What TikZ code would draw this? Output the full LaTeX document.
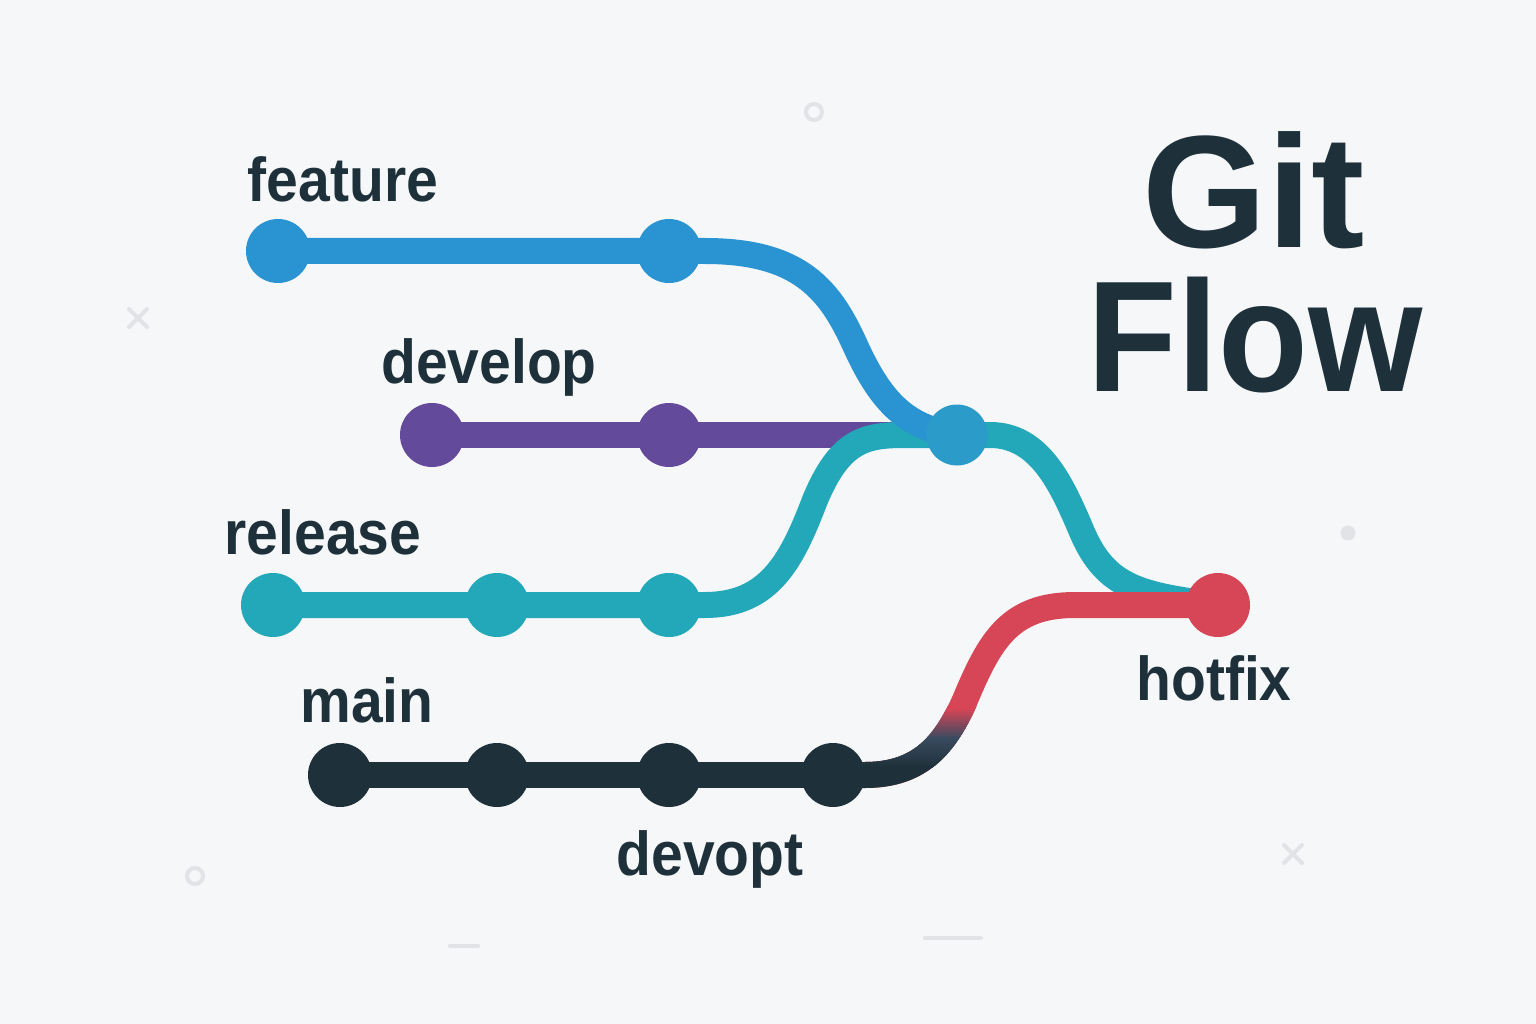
\documentclass[tikz,border=0pt]{standalone}
\usepackage{fontspec}
\setmainfont{Liberation Sans}
\newfontfamily\lblfont{Liberation Sans}[FakeStretch=0.92]
\newfontfamily\ttlfont{Liberation Sans}[FakeStretch=0.93]
\newfontfamily\gitfont{Liberation Sans}
\pgfdeclarelayer{bglayer}
\pgfdeclarelayer{lines}
\pgfsetlayers{bglayer,lines,main}
\definecolor{bgc}{HTML}{F6F7F9}
\definecolor{fblue}{HTML}{2A93D1}
\definecolor{dpurple}{HTML}{634A9A}
\definecolor{rteal}{HTML}{22A8B9}
\definecolor{hred}{HTML}{D64656}
\definecolor{mdark}{HTML}{1E313A}
\definecolor{midslate}{HTML}{3A4A60}
\definecolor{txt}{HTML}{1E313B}
\definecolor{mergec}{HTML}{2B9BC9}
\definecolor{deco}{HTML}{E2E3E7}
\tikzset{
  commit/.style={circle, inner sep=0pt, minimum size=64pt},
  branchline/.style={line width=26pt},
  lbl/.style={font=\lblfont\bfseries\fontsize{62}{62}\selectfont, text=txt, anchor=base, inner sep=0pt},
  ttl/.style={font=\ttlfont\bfseries\fontsize{158}{158}\selectfont, text=txt, anchor=base, inner sep=0pt},
  decoline/.style={draw=deco, line width=4pt, line cap=round}
}
\newcommand\mainpath{(m4.center) -- (865,775) .. controls (920,775) and (945,745) .. (965,700) .. controls (990,640) and (1010,605) .. (1075,605) -- (h.center)}
\begin{document}
\begin{tikzpicture}[x=1pt,y=-1pt]
\begin{pgfonlayer}{bglayer}
\fill[bgc] (0,0) rectangle (1536,1024);
\end{pgfonlayer}
\useasboundingbox (0,0) rectangle (1536,1024);

% decorations
\draw[decoline] (814,112) circle (8);
\draw[decoline] (195,876) circle (8);
\fill[deco] (1348,533) circle (7.5);
\draw[decoline] (129,309) -- (147,327) (129,327) -- (147,309);
\draw[decoline] (1284,845) -- (1302,863) (1284,863) -- (1302,845);
\draw[decoline] (450,946) -- (478,946);
\draw[decoline] (925,938) -- (981,938);

% commits
\node[commit, fill=fblue] (f1) at (278,251) {};
\node[commit, fill=fblue] (f2) at (669,251) {};
\node[commit, fill=dpurple] (d1) at (432,435) {};
\node[commit, fill=dpurple] (d2) at (669,435) {};
\node[commit, fill=rteal] (r1) at (273,605) {};
\node[commit, fill=rteal] (r2) at (497,605) {};
\node[commit, fill=rteal] (r3) at (669,605) {};
\node[commit, fill=mdark] (m1) at (340,775) {};
\node[commit, fill=mdark] (m2) at (497,775) {};
\node[commit, fill=mdark] (m3) at (669,775) {};
\node[commit, fill=mdark] (m4) at (833,775) {};
\node[commit, fill=mergec, minimum size=61pt] (mg) at (957,435) {};
\node[commit, fill=hred] (h) at (1218,605) {};

% connectors
\begin{pgfonlayer}{lines}
\draw[branchline, dpurple] (d1.center) -- (mg.center);
\draw[branchline, rteal] (r1.center) -- (r3.center) -- (705,605)
  .. controls (770,605) and (792,560) .. (815,500)
  .. controls (840,440) and (865,435) .. (905,435) -- (mg.center) -- (990,435)
  .. controls (1040,435) and (1062,485) .. (1082,532)
  .. controls (1106,588) and (1140,595) .. (h.center);
\draw[branchline, fblue] (f1.center) -- (f2.center) -- (705,251)
  .. controls (800,251) and (830,290) .. (855,345)
  .. controls (880,400) and (905,428) .. (mg.center);
\draw[branchline, mdark] (m1.center) -- (m4.center);
\draw[branchline, hred] \mainpath;
\begin{scope}
\clip (790,765) rectangle (1100,800);
\draw[branchline, mdark] \mainpath;
\end{scope}
\foreach \i in {0,...,29}{
  \pgfmathtruncatemacro{\p}{100-\i*100/29}
  \pgfmathsetmacro{\ya}{767-2*\i}
  \pgfmathsetmacro{\yb}{764-2*\i}
  \ifnum\p>50
    \pgfmathtruncatemacro{\q}{(\p-50)*2}
    \colorlet{bandc}{mdark!\q!midslate}
  \else
    \pgfmathtruncatemacro{\q}{\p*2}
    \colorlet{bandc}{midslate!\q!hred}
  \fi
  \begin{scope}
  \clip (790,\ya) rectangle (1100,\yb);
  \draw[branchline, bandc] \mainpath;
  \end{scope}
}
\end{pgfonlayer}

% labels
\node[lbl] (lf) at (343,202) {feature};
\node[lbl] (ld) at (489,383) {develop};
\node[lbl] (lr) at (323,554) {release};
\node[lbl] (lm) at (367,722) {main};
\node[lbl] (lv) at (710,875) {devopt};
\node[lbl] (lh) at (1214,700) {hotfix};
\node[ttl, font=\gitfont\bfseries\fontsize{160}{160}\selectfont] (t1) at (1254,248) {Git};
\node[ttl] (t2) at (1255,391) {Flow};
\end{tikzpicture}
\end{document}
